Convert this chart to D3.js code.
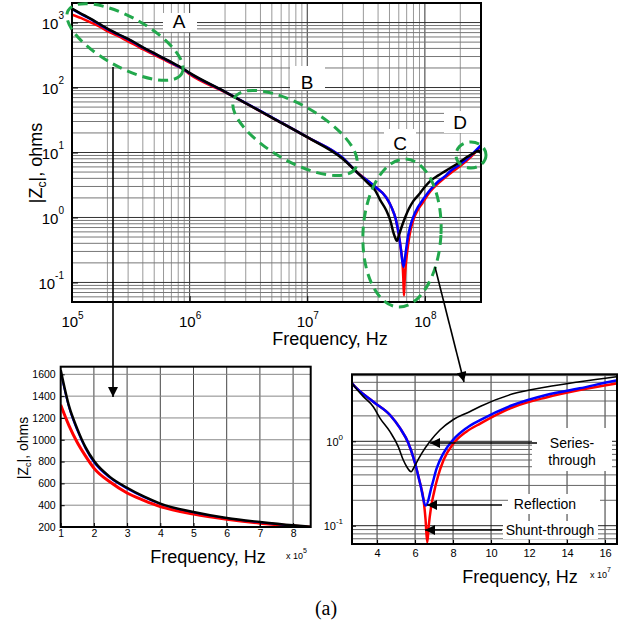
<!DOCTYPE html>
<html><head><meta charset="utf-8">
<script src="https://cdn.jsdelivr.net/npm/d3@7"></script>
<style>
body{margin:0;background:#fff}
text{font-family:Arial,"Liberation Sans",sans-serif;fill:#000}
</style>
</head><body>
<svg id="c" width="629" height="627"></svg>
<script>
// ---------------- data (frequency in Hz, |Zc| in ohms) ----------------
const blackF = [1e5,1.25e5,1.5e5,1.75e5,2e5,2.5e5,3e5,3.5e5,4e5,5e5,6e5,7e5,8e5,8.6e5,1e6,2e6,5e6,1e7,2e7,2.68e7,3.28e7,3.8e7,4.16e7,4.68e7,5.12e7,5.38e7,5.56e7,5.79e7,5.9e7,6.0e7,6.35e7,6.79e7,7.31e7,8.0e7,8.9e7,9.45e7,1.115e8,1.29e8,1.466e8,1.66e8,2.0e8,2.3e8,2.6e8,2.85e8,2.95e8,3.0e8];
const blackZ = [1640,1310,1100,930,807,655,560,480,415,338,283,246,215,200,168,86,34.5,17.2,8.0,4.85,3.38,2.57,1.87,1.3,0.86,0.6,0.5,0.436,0.47,0.52,0.72,1.0,1.36,1.8,2.25,2.6,3.65,4.4,5.08,5.83,7.2,8.6,9.8,10.5,10.0,11.0];
const redF = [1e5,1.25e5,1.5e5,1.75e5,2e5,2.5e5,3e5,3.5e5,4e5,5e5,6e5,7e5,8e5,8.6e5,1e6,2e6,5e6,1e7,2e7,2.68e7,3.8e7,4.68e7,5.21e7,5.65e7,6.0e7,6.26e7,6.45e7,6.55e7,6.64e7,6.72e7,6.85e7,7.0e7,7.2e7,7.5e7,8.0e7,8.7e7,9.45e7,1.115e8,1.29e8,1.466e8,1.66e8,2.0e8,2.5e8,3.0e8];
const redZ = [1320,1130,975,850,740,610,512,445,388,318,270,235,210,197,160,85,34.5,17.2,8.2,4.87,2.94,2.05,1.43,0.95,0.55,0.32,0.2,0.12,0.063,0.1,0.17,0.25,0.38,0.6,0.93,1.3,1.63,2.53,3.31,4.05,4.85,6.2,8.8,12.5];
const blueF = [1e5,1.25e5,1.5e5,1.75e5,2e5,2.5e5,3e5,3.5e5,4e5,5e5,6e5,7e5,8e5,8.6e5,1e6,2e6,5e6,1e7,2e7,2.68e7,3.8e7,4.68e7,5.21e7,5.65e7,6.0e7,6.26e7,6.57e7,6.87e7,7.14e7,7.49e7,8.0e7,8.7e7,9.45e7,1.115e8,1.29e8,1.466e8,1.66e8,2.0e8,2.5e8,3.0e8];
const blueZ = [1610,1290,1080,915,790,645,550,472,410,333,280,242,212,199,166,86,34.8,17.3,8.3,4.87,2.94,2.05,1.43,0.95,0.55,0.32,0.173,0.29,0.48,0.72,1.04,1.43,1.79,2.69,3.54,4.24,5.25,6.6,9.3,13.0];

const mainXTicks = [1e5,1e6,1e7,1e8];
const mainYTicks = [0.1,1,10,100,1000];
const leftXTicks = [1e5,2e5,3e5,4e5,5e5,6e5,7e5,8e5];
const leftYTicks = [200,400,600,800,1000,1200,1400,1600];
const rightXTicks = [4e7,6e7,8e7,10e7,12e7,14e7,16e7];
const rightYTicks = [0.1,1];
const regionLabels = ["A","B","C","D"];
const pointerLabels = ["Series-through","Reflection","Shunt-through"];

// ---------------- setup ----------------
const svg = d3.select('#c');
const defs = svg.append('defs');
defs.append('marker').attr('id','ah').attr('viewBox','0 0 10 10').attr('refX',10).attr('refY',5)
  .attr('markerWidth',16).attr('markerHeight',10).attr('markerUnits','userSpaceOnUse').attr('orient','auto')
  .append('path').attr('d','M0,0L10,5L0,10Z').attr('fill','#000');

const series = [
  {name:'red', color:'#ff0000', data: redF.map((f,i)=>({f, z:redZ[i]}))},
  {name:'blue', color:'#0000ff', data: blueF.map((f,i)=>({f, z:blueZ[i]}))},
  {name:'black', color:'#000000', data: blackF.map((f,i)=>({f, z:blackZ[i]}))}
];
function subset(d, lo, hi){
  let a = d.findIndex(p=>p.f>=lo); if(a<0) a=d.length-1; a=Math.max(0,a-1);
  let b = d.length-1; for(let i=0;i<d.length;i++){ if(d[i].f>hi){ b=i; break; } }
  return d.slice(a,b+1);
}
function minorVals(lo, hi, kLo, kHi){
  const out=[]; for(let k=kLo;k<=kHi;k++) for(let m=1;m<=9;m++){ const v=m*Math.pow(10,k); if(v>lo*1.0001 && v<hi*0.9999) out.push({v, major:m===1}); } return out;
}
function powLabels(g, supSize, supDy){
  g.selectAll('.tick text').each(function(d){
    const e=Math.round(Math.log10(d)); const t=d3.select(this); t.text(null);
    t.append('tspan').text('10');
    t.append('tspan').attr('dy',supDy).attr('font-size',supSize).text(e);
  });
}
function styleAxis(g){ g.select('.domain').remove(); g.selectAll('.tick line').attr('stroke','#000'); }

// ================= MAIN PLOT =================
const M = {l:72, r:481, t:3, b:302};
const xM = d3.scaleLog().domain([1e5,3e8]).range([M.l,M.r]);
const yM = d3.scaleLog().domain([0.05,2000]).range([M.b,M.t]);
const gM = svg.append('g');
defs.append('clipPath').attr('id','clipM').append('rect').attr('x',M.l).attr('y',M.t).attr('width',M.r-M.l).attr('height',M.b-M.t);

minorVals(1e5,3e8,5,8).forEach(o=>{
  gM.append('line').attr('x1',xM(o.v)).attr('x2',xM(o.v)).attr('y1',M.t).attr('y2',M.b)
    .attr('stroke',o.major?'#333':'#999').attr('stroke-width',1);
});
minorVals(0.05,2000,-2,3).forEach(o=>{
  gM.append('line').attr('y1',yM(o.v)).attr('y2',yM(o.v)).attr('x1',M.l).attr('x2',M.r)
    .attr('stroke',o.major?'#333':'#777').attr('stroke-width',1);
});
// white label boxes
const boxes = [[163,13,34,19],[290,66,35,24],[384,129,32,22],[444,111,36,22]];
const letterPos = [[179,28],[307,89],[400,150],[460,129]];
boxes.forEach(b=>gM.append('rect').attr('x',b[0]).attr('y',b[1]).attr('width',b[2]).attr('height',b[3]).attr('fill','#fff'));
regionLabels.forEach((t,i)=>gM.append('text').attr('x',letterPos[i][0]).attr('y',letterPos[i][1]).attr('text-anchor','middle').attr('font-size',19).text(t));

const lineM = d3.line().x(d=>xM(d.f)).y(d=>yM(d.z)).curve(d3.curveMonotoneX);
const cM = gM.append('g').attr('clip-path','url(#clipM)');
series.forEach(s=>cM.append('path').attr('d',lineM(s.data)).attr('fill','none').attr('stroke',s.color).attr('stroke-width',2.5).attr('stroke-linejoin','round'));

// axes
const axMB = gM.append('g').attr('transform',`translate(0,${M.b})`).call(d3.axisBottom(xM).tickValues(mainXTicks).tickSize(-6).tickPadding(14));
styleAxis(axMB); axMB.selectAll('text').attr('font-size',15); powLabels(axMB,10,-8);
const axML = gM.append('g').attr('transform',`translate(${M.l},0)`).call(d3.axisLeft(yM).tickValues(mainYTicks).tickSize(-6).tickPadding(8));
styleAxis(axML); axML.selectAll('text').attr('font-size',15).attr('dy','0.42em'); powLabels(axML,10,-10);
gM.append('rect').attr('x',M.l).attr('y',M.t).attr('width',M.r-M.l).attr('height',M.b-M.t).attr('fill','none').attr('stroke','#000').attr('stroke-width',2);
gM.append('text').attr('x',330).attr('y',345).attr('text-anchor','middle').attr('font-size',18).text('Frequency, Hz');
const yl = gM.append('text').attr('transform','translate(42,163) rotate(-90)').attr('text-anchor','middle').attr('font-size',18);
yl.append('tspan').text('|Z'); yl.append('tspan').attr('font-size',12).attr('dy',4).text('c'); yl.append('tspan').attr('dy',-4).text('|, ohms');

// ellipses
const ell = [[125,42,65,25,29],[295,133,70,28,30],[402,233,39,74,3],[471,155,15,13,0]];
ell.forEach(e=>gM.append('ellipse').attr('cx',0).attr('cy',0).attr('rx',e[2]).attr('ry',e[3])
  .attr('transform',`translate(${e[0]},${e[1]}) rotate(${e[4]})`)
  .attr('fill','none').attr('stroke','#22a84c').attr('stroke-width',3).attr('stroke-dasharray','10,6'));

// ================= LEFT SUBPLOT =================
const L = {l:60.7, r:310.7, t:366.7, b:527};
const xL = d3.scaleLinear().domain([1e5,8.53e5]).range([L.l,L.r]);
const yL = d3.scaleLinear().domain([200,1670]).range([L.b,L.t]);
const gL = svg.append('g');
defs.append('clipPath').attr('id','clipL').append('rect').attr('x',L.l).attr('y',L.t).attr('width',L.r-L.l).attr('height',L.b-L.t);
leftXTicks.slice(1).forEach(v=>gL.append('line').attr('x1',xL(v)).attr('x2',xL(v)).attr('y1',L.t).attr('y2',L.b).attr('stroke','#444'));
leftYTicks.slice(1).forEach(v=>gL.append('line').attr('y1',yL(v)).attr('y2',yL(v)).attr('x1',L.l).attr('x2',L.r).attr('stroke','#888'));
const lineL = d3.line().x(d=>xL(d.f)).y(d=>yL(d.z)).curve(d3.curveMonotoneX);
const cL = gL.append('g').attr('clip-path','url(#clipL)');
const wL = {red:3, blue:1.5, black:2.5};
series.forEach(s=>cL.append('path').attr('d',lineL(subset(s.data,1e5,8.53e5))).attr('fill','none').attr('stroke',s.color).attr('stroke-width',wL[s.name]));
const axLB = gL.append('g').attr('transform',`translate(0,${L.b})`).call(d3.axisBottom(xL).tickValues(leftXTicks).tickSize(-4).tickPadding(3).tickFormat(d=>d/1e5));
styleAxis(axLB); axLB.selectAll('text').attr('font-size',10.5);
const axLL = gL.append('g').attr('transform',`translate(${L.l},0)`).call(d3.axisLeft(yL).tickValues(leftYTicks).tickSize(-4).tickPadding(5).tickFormat(d3.format('d')));
styleAxis(axLL); axLL.selectAll('text').attr('font-size',10.5);
gL.append('rect').attr('x',L.l).attr('y',L.t).attr('width',L.r-L.l).attr('height',L.b-L.t).attr('fill','none').attr('stroke','#000').attr('stroke-width',2);
gL.append('text').attr('x',208).attr('y',563).attr('text-anchor','middle').attr('font-size',18).text('Frequency, Hz');
const xs5 = gL.append('text').attr('x',286).attr('y',559).attr('font-size',9);
xs5.append('tspan').text('x 10'); xs5.append('tspan').attr('dy',-6).attr('font-size',7).text('5');
const ylL = gL.append('text').attr('transform','translate(28,448) rotate(-90)').attr('text-anchor','middle').attr('font-size',14);
ylL.append('tspan').text('|Z'); ylL.append('tspan').attr('font-size',9).attr('dy',3).text('c'); ylL.append('tspan').attr('dy',-3).text('|, ohms');

// ================= RIGHT SUBPLOT =================
const R = {l:352, r:617, t:374.3, b:544};
const xR = d3.scaleLinear().domain([2.68e7,16.63e7]).range([R.l,R.r]);
const yR = d3.scaleLog().domain([0.0607,6.22]).range([R.b,R.t]);
const gR = svg.append('g');
defs.append('clipPath').attr('id','clipR').append('rect').attr('x',R.l).attr('y',R.t).attr('width',R.r-R.l).attr('height',R.b-R.t);
rightXTicks.forEach(v=>gR.append('line').attr('x1',xR(v)).attr('x2',xR(v)).attr('y1',R.t).attr('y2',R.b).attr('stroke','#333'));
minorVals(0.0607,6.22,-2,0).forEach(o=>gR.append('line').attr('y1',yR(o.v)).attr('y2',yR(o.v)).attr('x1',R.l).attr('x2',R.r).attr('stroke',o.major?'#222':'#666'));
// label boxes
[[532,428,80,43],[508,494,92,20],[503,521,95,18]].forEach(b=>gR.append('rect').attr('x',b[0]).attr('y',b[1]).attr('width',b[2]).attr('height',b[3]).attr('fill','#fff'));
const lineR = d3.line().x(d=>xR(d.f)).y(d=>yR(d.z)).curve(d3.curveMonotoneX);
const cR = gR.append('g').attr('clip-path','url(#clipR)');
const wR = {red:2.5, blue:2.5, black:1.6};
series.forEach(s=>cR.append('path').attr('d',lineR(subset(s.data,2.68e7,16.63e7))).attr('fill','none').attr('stroke',s.color).attr('stroke-width',wR[s.name]).attr('stroke-linejoin','round'));
const axRB = gR.append('g').attr('transform',`translate(0,${R.b})`).call(d3.axisBottom(xR).tickValues(rightXTicks).tickSize(-4).tickPadding(5).tickFormat(d=>d/1e7));
styleAxis(axRB); axRB.selectAll('text').attr('font-size',11);
const axRL = gR.append('g').attr('transform',`translate(${R.l},0)`).call(d3.axisLeft(yR).tickValues(rightYTicks).tickSize(-4).tickPadding(9));
styleAxis(axRL); axRL.selectAll('text').attr('font-size',11).attr('dy','0.35em'); powLabels(axRL,8,-6);
gR.append('rect').attr('x',R.l).attr('y',R.t).attr('width',R.r-R.l).attr('height',R.b-R.t).attr('fill','none').attr('stroke','#000').attr('stroke-width',2);
gR.append('text').attr('x',520).attr('y',583).attr('text-anchor','middle').attr('font-size',18).text('Frequency, Hz');
const xs7 = gR.append('text').attr('x',590).attr('y',578).attr('font-size',9);
xs7.append('tspan').text('x 10'); xs7.append('tspan').attr('dy',-6).attr('font-size',7).text('7');
// pointer labels
const s1 = gR.append('text').attr('text-anchor','middle').attr('font-size',14);
s1.append('tspan').attr('x',572).attr('y',448).text('Series-');
s1.append('tspan').attr('x',572).attr('y',465).text('through');
gR.append('text').attr('x',545).attr('y',509).attr('text-anchor','middle').attr('font-size',14).text(pointerLabels[1]);
gR.append('text').attr('x',550).attr('y',535).attr('text-anchor','middle').attr('font-size',14).text(pointerLabels[2]);

// ================= ARROWS =================
const arrows = [[113,67,113,397],[435,267,464,382],[537,443,430,443],[502,505,427,505],[502,530,425,530]];
arrows.forEach(a=>svg.append('line').attr('x1',a[0]).attr('y1',a[1]).attr('x2',a[2]).attr('y2',a[3])
  .attr('stroke','#000').attr('stroke-width',1.6).attr('marker-end','url(#ah)'));

svg.append('text').attr('x',326).attr('y',615).attr('text-anchor','middle').attr('font-size',20)
  .style('font-family','"Liberation Serif","Times New Roman",serif').text('(a)');
</script>
</body></html>
